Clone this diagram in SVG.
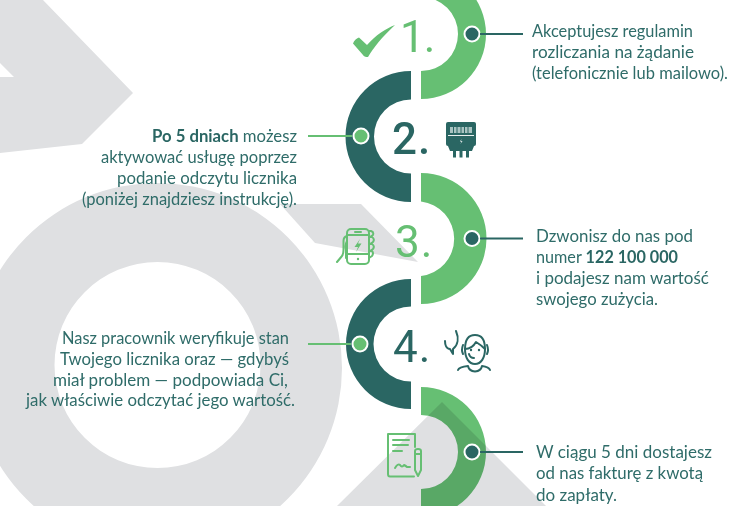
<svg xmlns="http://www.w3.org/2000/svg" width="748" height="506" viewBox="0 0 748 506">
<style>
.bg{fill:#dfe0e2}
.g{fill:#66bf73}
.d{fill:#2a6663}
.dotg{fill:#66bf73;stroke:#fff;stroke-width:2}
.dotd{fill:#2a6663;stroke:#fff;stroke-width:2}
.cg{stroke:#66bf73;stroke-width:1.8;fill:none}
.cd{stroke:#2a6663;stroke-width:1.8;fill:none}
.ig{fill:none;stroke:#66bf73;stroke-width:2;stroke-linecap:round;stroke-linejoin:round}
.id{fill:none;stroke:#2a6663;stroke-width:2;stroke-linecap:round;stroke-linejoin:round}
text{font-family:"Lato","Noto Sans",sans-serif;font-size:16.500px;fill:#2f6c69}
text.num{font-family:"Roboto","Lato",sans-serif;font-size:44px}
.b{font-weight:700;fill:#2a6663}
</style>
<g id="background">
<path class="bg" d="M43,0L133,93L82,144L0,153V77H14L0,63V0Z"/>
<path class="bg" d="M280,204H361L418,262L315,243Z"/>
<path class="bg" fill-rule="evenodd" d="M157,183A185,185 0 0 1 157,553A185,185 0 0 1 157,183ZM157.500,262A103,103 0 0 0 157.500,468A103,103 0 0 0 157.500,262Z"/>
<path class="bg" d="M337,506L442,402L546,506Z"/>
</g>
<g id="step1">
<path class="g" d="M421,-31A65,65 0 0 1 421,99V71A37,37 0 0 0 421,-3Z"/>
<path class="g" d="M353,43.500C354,40 357,38 359,37.500L367,45C376,35 385,29 395,25C382,37 374,47 368,57C365,57 364,56.500 363,55Z"/>
<text class="num" x="400" y="52" style="fill:#66bf73;font-weight:400" letter-spacing="-1">1.</text>
<circle class="dotd" cx="472" cy="34" r="7.500"/>
<text x="532" y="37" textLength="161" lengthAdjust="spacingAndGlyphs">Akceptujesz regulamin</text>
<text x="532" y="58" textLength="162" lengthAdjust="spacingAndGlyphs">rozliczania na żądanie</text>
<text x="532" y="79" textLength="196" lengthAdjust="spacingAndGlyphs">(telefonicznie lub mailowo).</text>
</g>
<g id="step2">
<path class="d" d="M411,71A65.500,65.500 0 0 0 411,202V173.500A37,37 0 0 1 411,99.500Z"/>
<text class="num" x="392" y="154" style="fill:#2a6663;font-weight:500" letter-spacing="1">2.</text>
<rect class="d" x="446" y="122" width="30" height="24" rx="2"/>
<path class="d" d="M448,146H474L472,151H450Z"/>
<path class="d" d="M453,151h3v6.500h-3ZM459.500,151h3v6.500h-3ZM466,151h3v6.500h-3Z"/>
<path d="M450,127h22v6h-22Z" fill="#a9c4c2"/>
<path d="M453.500,127v6M457,127v6M461,127v6M464.500,127v6M468,127v6" stroke="#2a6663" stroke-width="1"/>
<path d="M448,135.500H474" stroke="#fff" stroke-width=".9"/>
<path d="M461.500,139L460,141.500H461.500L460.500,144L462.500,141H461Z" fill="#fff"/>
<circle class="dotg" cx="361" cy="136" r="7.500"/>
<text x="152" y="142" textLength="145" lengthAdjust="spacingAndGlyphs"><tspan class="b">Po 5 dniach</tspan> możesz</text>
<text x="101" y="163" textLength="196" lengthAdjust="spacingAndGlyphs">aktywować usługę poprzez</text>
<text x="117" y="184" textLength="180" lengthAdjust="spacingAndGlyphs">podanie odczytu licznika</text>
<text x="82" y="205" textLength="215" lengthAdjust="spacingAndGlyphs">(poniżej znajdziesz instrukcję).</text>
</g>
<g id="step3">
<path class="g" d="M421,173A65.500,65.500 0 0 1 421,304V276A37.500,37.500 0 0 0 421,201.500Z"/>
<text class="num" x="395" y="257" style="fill:#66bf73;font-weight:400" letter-spacing="1">3.</text>
<rect class="ig" x="347" y="229" width="22" height="35" rx="4"/>
<path class="ig" d="M347,235H369M347,254H369M355,232H361"/>
<path d="M360,239L354.500,247H358L356,252L361.500,243.500H358Z" fill="#66bf73"/>
<circle cx="358" cy="259" r="1.200" fill="#66bf73"/>
<path class="ig" d="M369,231H371Q374,232 373,235L370,237H372Q375,239 373,242L370,244H372Q375,246 373,249L370,251H372Q374,253 372,256L369,258"/>
<path class="ig" d="M337,262L342,256Q343.500,254 343.500,250V241Q343.500,237 347,236M347,241Q345,244 346,250V258"/>
<circle class="dotd" cx="472" cy="238.500" r="7.500"/>
<text x="536" y="242" textLength="157" lengthAdjust="spacingAndGlyphs">Dzwonisz do nas pod</text>
<text x="536" y="263" textLength="142" lengthAdjust="spacingAndGlyphs">numer <tspan class="b">122 100 000</tspan></text>
<text x="536" y="284" textLength="173" lengthAdjust="spacingAndGlyphs">i podajesz nam wartość</text>
<text x="536" y="305" textLength="122" lengthAdjust="spacingAndGlyphs">swojego zużycia.</text>
</g>
<g id="step4">
<path class="d" d="M411,279A65,65 0 0 0 411,409V381.500A37.500,37.500 0 0 1 411,306.500Z"/>
<text class="num" x="393" y="362" style="fill:#2a6663;font-weight:400" letter-spacing="1">4.</text>
<path class="id" d="M456,331C459,338 458,345 453,349L453,354L450,349C446,349 445,344 445,341"/>
<path class="id" d="M465,349C465,340 468,335 475,335C482,335 485,340 485,349C485,358 481,364 475,364C469,364 465,358 465,349Z"/>
<path class="id" d="M465,349Q472,349 476,342Q481,345 485,349"/>
<path class="id" d="M463,345Q461,350 463,354M487,345Q489,350 487,354M469,354Q470,358 474,358"/>
<circle cx="471" cy="350" r="1.200" fill="#2a6663"/><circle cx="479" cy="350" r="1.200" fill="#2a6663"/>
<path class="id" d="M458,370Q459,367 468,366Q469,371 475,371.500Q481,371 482,366Q489,367 490,370"/>
<circle class="dotg" cx="360" cy="344" r="7.500"/>
<text x="62" y="344" textLength="227" lengthAdjust="spacingAndGlyphs">Nasz pracownik weryfikuje stan</text>
<text x="60" y="365" textLength="229" lengthAdjust="spacingAndGlyphs">Twojego licznika oraz — gdybyś</text>
<text x="53" y="386" textLength="235" lengthAdjust="spacingAndGlyphs">miał problem — podpowiada Ci,</text>
<text x="26" y="406" textLength="269" lengthAdjust="spacingAndGlyphs">jak właściwie odczytać jego wartość.</text>
</g>
<g id="step5">
<path class="g" style="mix-blend-mode:multiply" d="M421,387A65,65 0 0 1 421,517V489A37,37 0 0 0 421,415Z"/>
<path class="ig" d="M415,447V434H388V474Q388,476.500 390,476.500H414"/>
<path class="ig" d="M393,440H409M393,445H408M393,451H402"/>
<path class="ig" stroke-width="2.400" d="M395,468Q398,463 400,465Q402,468 404,465Q406,466 407,467H410"/>
<path class="ig" d="M415,451Q415,449 418,449Q421,449 421,451V470L418,476L415,470ZM415,454H421"/>
<circle class="dotd" cx="472" cy="452" r="7.500"/>
<text x="536" y="458" textLength="176" lengthAdjust="spacingAndGlyphs">W ciągu 5 dni dostajesz</text>
<text x="536" y="479" textLength="167" lengthAdjust="spacingAndGlyphs">od nas fakturę z kwotą</text>
<text x="536" y="501" textLength="81" lengthAdjust="spacingAndGlyphs">do zapłaty.</text>
</g>
<g id="connectors">
<path class="cd" d="M480,34H523"/>
<path class="cg" d="M308,136H352"/>
<path class="cd" d="M480,238.500H523"/>
<path class="cg" d="M308,344H351"/>
<path class="cd" d="M480,452H523"/>
</g>
</svg>
